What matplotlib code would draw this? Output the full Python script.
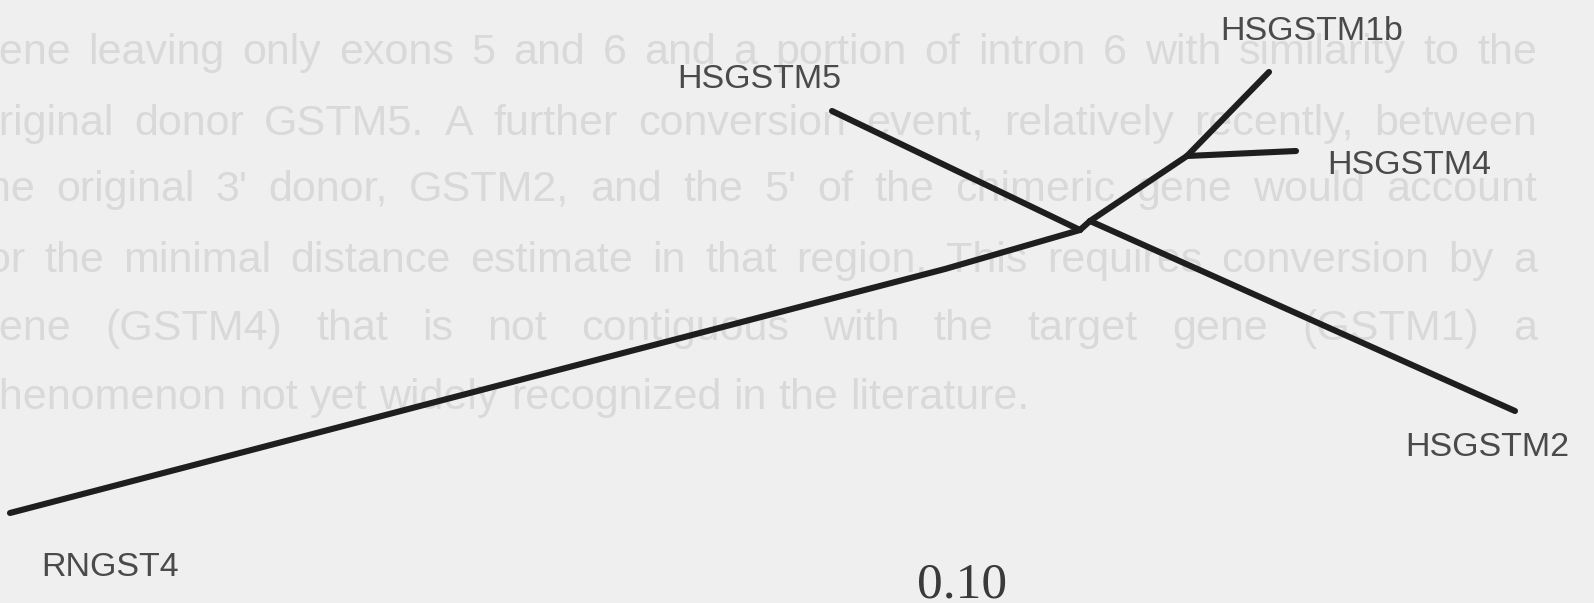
import matplotlib
matplotlib.use("Agg")
import matplotlib.pyplot as plt

# node positions of the unrooted tree, in page units (x right, y down)
node_names = ["A", "B", "C", "RNGST4", "HSGSTM5", "HSGSTM2", "HSGSTM1b", "HSGSTM4"]
node_x = [1080, 1090, 1187, 10, 832, 1515, 1269, 1296]
node_y = [230, 221, 156, 513, 111, 411, 72, 151]

# branches as (from, to); the long RNGST4 branch has a small kink
branches = [("A", "RNGST4"), ("A", "HSGSTM5"), ("A", "B"),
            ("B", "C"), ("B", "HSGSTM2"), ("C", "HSGSTM1b"), ("C", "HSGSTM4")]
kinks = {("A", "RNGST4"): [(945, 269)]}

# leaf labels and where their text sits
leaf_labels = ["HSGSTM5", "HSGSTM1b", "HSGSTM4", "HSGSTM2", "RNGST4"]
label_x = [677, 1220, 1327, 1405, 41]
label_y = [79, 31, 165, 447, 567]

scale_text = "0.10"

# text from the other side of the page that shows through the scan
# (justified paragraph, last line ragged)
show_through = [
    "gene leaving only exons 5 and 6 and a portion of intron 6 with similarity to the",
    "original donor GSTM5.  A further conversion event, relatively recently, between",
    "the original 3' donor, GSTM2, and the 5' of the chimeric gene would account",
    "for the minimal distance estimate in that region.  This requires conversion by a",
    "gene (GSTM4) that is not contiguous with the target gene (GSTM1) a",
    "phenomenon not yet widely recognized in the literature.",
]
show_y = [53, 124, 190, 261, 329, 398]
page_left = -25
page_right = 1537

bg = "#efefef"

fig = plt.figure(figsize=(15.94, 6.03), dpi=100, facecolor=bg)
ax = fig.add_axes([0, 0, 1, 1])
ax.set_facecolor(bg)
ax.set_xlim(0, 1594)
ax.set_ylim(603, 0)
ax.axis("off")

renderer = fig.canvas.get_renderer()
bleed_kw = dict(va="center", ha="left", fontsize=31,
                family="Liberation Sans", color="#d9d9d9", zorder=1)


def word_width(w):
    t = ax.text(0, 0, w, **bleed_kw)
    wdt = t.get_window_extent(renderer).width
    t.remove()
    return wdt  # axes covers the whole figure, so 1 px == 1 data unit


space_w = word_width("a b") - word_width("ab")
for i, (line, y) in enumerate(zip(show_through, show_y)):
    words = line.split()
    widths = [word_width(w) for w in words]
    if i < len(show_through) - 1:
        gap = (page_right - page_left - sum(widths)) / (len(words) - 1)
    else:
        gap = space_w
    x = page_left
    for w, wd in zip(words, widths):
        ax.text(x, y, w, **bleed_kw)
        x += wd + gap

pos = {n: (x, y) for n, x, y in zip(node_names, node_x, node_y)}
for a, b in branches:
    pts = [pos[a]] + kinks.get((a, b), []) + [pos[b]]
    xs = [p[0] for p in pts]
    ys = [p[1] for p in pts]
    ax.plot(xs, ys, color="#1e1e1e", lw=4.4, solid_capstyle="round",
            solid_joinstyle="round", zorder=3)

for name, x, y in zip(leaf_labels, label_x, label_y):
    ax.text(x, y, name, ha="left", va="center", fontsize=24.5,
            family="Liberation Sans", color="#4a4a4a", zorder=4)

ax.text(962, 585, scale_text, ha="center", va="center", fontsize=37,
        family="Liberation Serif", color="#3a3a3a", zorder=4)

fig.savefig("out.png", dpi=100, facecolor=bg)
